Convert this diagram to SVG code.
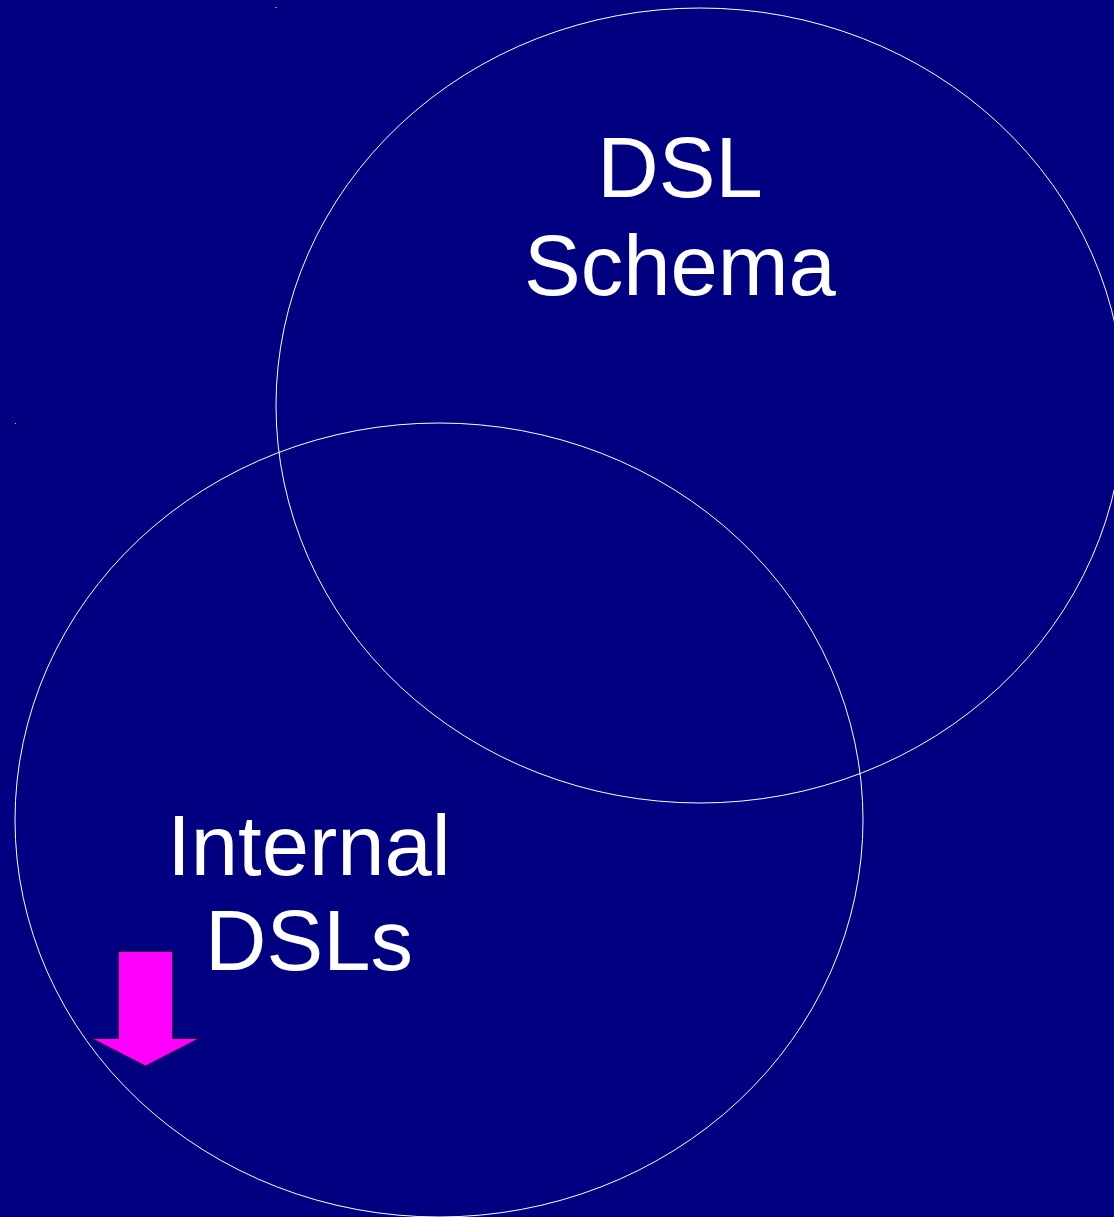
<svg xmlns="http://www.w3.org/2000/svg" width="1114" height="1217" viewBox="0 0 1114 1217">
  <style>
    .set { fill: none; stroke: #ffffff; stroke-width: 1; }
    .lbl { fill: #ffffff; font-family: "Liberation Sans", Arial, sans-serif; font-size: 85px; text-anchor: middle; }
    .arrow { fill: #ff00ff; stroke: #330033; stroke-width: 1; }
  </style>
  <rect x="0" y="0" width="1114" height="1217" fill="#000080"/>
  <rect x="275" y="7" width="2" height="1" fill="#8080c0"/>
  <rect x="15" y="423" width="1" height="1" fill="#c0c0ff"/>
  <g id="dsl-schema">
    <ellipse class="set" cx="700" cy="405.5" rx="424" ry="397.5"/>
    <text class="lbl" x="680" y="197">DSL</text>
    <text class="lbl" x="680" y="295">Schema</text>
  </g>
  <g id="internal-dsls">
    <ellipse class="set" cx="439" cy="820" rx="424" ry="397"/>
    <text class="lbl" x="309" y="875">Internal</text>
    <text class="lbl" x="309" y="970">DSLs</text>
  </g>
  <g id="connectors">
    <path class="arrow" d="M118.5,951.5 L172.5,951.5 L172.5,1038.5 L199,1038.5 L145.5,1066 L92,1038.5 L118.5,1038.5 Z"/>
  </g>
</svg>
